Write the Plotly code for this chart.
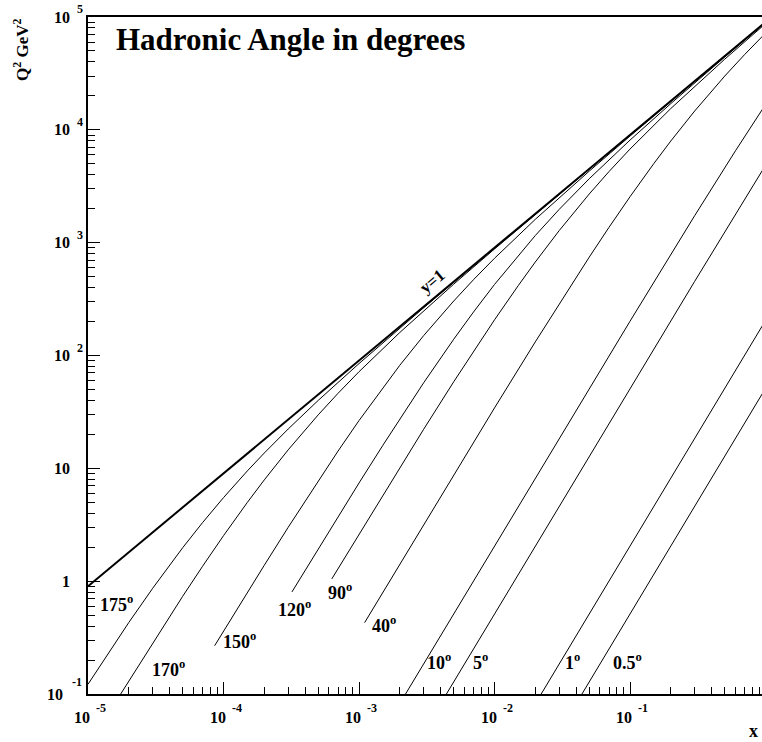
import math
import plotly.graph_objects as go

# ---- data -------------------------------------------------------------
# kinematic limit y = 1  (Q^2 = s x, HERA: s ~ 90200 GeV^2)
y1_x = [1e-5, 1.0]
y1_q2 = [0.902, 90200]

# lines of constant hadronic angle: Bjorken x and Q^2 (GeV^2)
x_175 = [1e-5, 1.5e-5, 2e-5, 3e-5, 5e-5, 7e-5, 1e-4, 1.5e-4, 2e-4, 3e-4, 5e-4, 1e-3, 3e-3, 1e-2, 1e-1, 1]
q2_175 = [0.122, 0.257, 0.430, 0.864, 1.98, 3.30, 5.50, 9.49, 13.67, 22.3, 40.0, 84.8, 265, 896, 9014, 90194]

x_170 = [1.743e-5, 2e-5, 3e-5, 5e-5, 7e-5, 1e-4, 1.5e-4, 2e-4, 3e-4, 5e-4, 7e-4, 1e-3, 2e-3, 5e-3, 1e-2, 1e-1, 1]
q2_170 = [0.100, 0.130, 0.283, 0.735, 1.353, 2.53, 4.99, 7.90, 14.58, 29.8, 46.2, 71.8, 159.9, 429, 879, 8997, 90177]

x_150 = [8.6e-5, 1e-4, 1.5e-4, 2e-4, 3e-4, 5e-4, 7e-4, 1e-3, 1.5e-3, 2e-3, 3e-3, 5e-3, 7e-3, 1e-2, 2e-2, 5e-2, 1e-1, 3e-1, 1]
q2_150 = [0.268, 0.360, 0.794, 1.384, 3.00, 7.76, 14.22, 26.5, 51.9, 81.9, 150.1, 304, 470, 727, 1610, 4303, 8808, 26845, 89983]

x_120 = [3.2e-4, 5e-4, 7e-4, 1e-3, 1.5e-3, 2e-3, 3e-3, 5e-3, 7e-3, 1e-2, 1.5e-2, 2e-2, 3e-2, 5e-2, 1e-1, 2e-1, 5e-1, 1]
q2_120 = [0.803, 1.931, 3.72, 7.41, 16.0, 27.4, 57.3, 139.4, 243, 426, 775, 1157, 1971, 3686, 8113, 17085, 44114, 89203]

x_90 = [6.3e-4, 1e-3, 1.5e-3, 2e-3, 3e-3, 5e-3, 7e-3, 1e-2, 1.5e-2, 2e-2, 3e-2, 5e-2, 7e-2, 1e-1, 2e-1, 5e-1, 1]
q2_90 = [1.048, 2.61, 5.79, 10.15, 22.2, 58.5, 109.0, 207, 418, 674, 1278, 2699, 4269, 6755, 15449, 42265, 87273]

x_40 = [1.1e-3, 2e-3, 3e-3, 5e-3, 1e-2, 2e-2, 3e-2, 5e-2, 7e-2, 1e-1, 1.5e-1, 2e-1, 3e-1, 5e-1, 7e-1, 1]
q2_40 = [0.429, 1.414, 3.17, 8.74, 34.3, 132.1, 286.7, 744, 1368, 2554, 5034, 7962, 14676, 29941, 46370, 71978]

x_10 = [2.205e-3, 5e-3, 1e-2, 3e-2, 1e-1, 3e-1, 6e-1, 1]
q2_10 = [0.100, 0.514, 2.054, 18.40, 201.3, 1734, 6519, 16761]

x_5 = [4.417e-3, 1e-2, 3e-2, 1e-1, 3e-1, 1]
q2_5 = [0.100, 0.512, 4.61, 51.0, 453.7, 4851]

x_1 = [2.21e-2, 5e-2, 1e-1, 3e-1, 1]
q2_1 = [0.100, 0.512, 2.048, 18.42, 204.4]

x_05 = [4.419e-2, 1e-1, 3e-1, 1]
q2_05 = [0.100, 0.512, 4.608, 51.18]

angle_labels = ["175", "170", "150", "120", "90", "40", "10", "5", "1", "0.5"]
angle_x = [x_175, x_170, x_150, x_120, x_90, x_40, x_10, x_5, x_1, x_05]
angle_q2 = [q2_175, q2_170, q2_150, q2_120, q2_90, q2_40, q2_10, q2_5, q2_1, q2_05]

# axis tick labels
x_decades = [1e-5, 1e-4, 1e-3, 1e-2, 1e-1]
x_exponents = ["-5", "-4", "-3", "-2", "-1"]
y_decades = [1e-1, 1, 10, 1e2, 1e3, 1e4, 1e5]
y_bases = ["10", "1", "10", "10", "10", "10", "10"]
y_exponents = ["-1", "", "", "2", "3", "4", "5"]

# ---- layout helpers ---------------------------------------------------
FONT = "Liberation Serif"


def font(size):
    return dict(family=FONT, size=size, color="black", weight="bold")


# where each angle label sits (log10 x, log10 Q^2 of the digits' left/centre)
label_pos = {
    "175": (-4.911, -0.220),
    "170": (-4.530, -0.792),
    "150": (-4.002, -0.546),
    "120": (-3.596, -0.258),
    "90": (-3.227, -0.108),
    "40": (-2.902, -0.400),
    "10": (-2.500, -0.728),
    "5": (-2.161, -0.728),
    "1": (-1.480, -0.728),
    "0.5": (-1.123, -0.728),
}

fig = go.Figure()

fig.add_trace(go.Scatter(x=y1_x, y=y1_q2, mode="lines",
                         line=dict(color="black", width=2), hoverinfo="skip"))
for lab, xs, qs in zip(angle_labels, angle_x, angle_q2):
    fig.add_trace(go.Scatter(x=xs, y=qs, mode="lines", name=lab + "°",
                             line=dict(color="black", width=1), hoverinfo="skip"))

ann = []

# x-axis labels: "10" with a raised exponent
for v, e in zip(x_decades, x_exponents):
    ann.append(dict(xref="x", yref="paper", x=math.log10(v), y=0, text="10",
                    xanchor="right", yanchor="middle", xshift=4, yshift=-23.5,
                    showarrow=False, font=font(16)))
    ann.append(dict(xref="x", yref="paper", x=math.log10(v), y=0, text=e,
                    xanchor="left", yanchor="middle", xshift=6, yshift=-14,
                    showarrow=False, font=font(12)))

# y-axis labels
for v, b, e in zip(y_decades, y_bases, y_exponents):
    low = v < 1
    ann.append(dict(xref="paper", yref="y", x=0, y=math.log10(v), text=b,
                    xanchor="right", yanchor="middle",
                    xshift=-23 if low else -16, yshift=0,
                    showarrow=False, font=font(16)))
    if e:
        ann.append(dict(xref="paper", yref="y", x=0, y=math.log10(v), text=e,
                        xanchor="left", yanchor="middle",
                        xshift=-18 if low else -13, yshift=12 if low else 8,
                        showarrow=False, font=font(12)))

# angle labels
for lab in angle_labels:
    lx, ly = label_pos[lab]
    ann.append(dict(xref="x", yref="y", x=lx, y=ly, text=lab + "<sup>o</sup>",
                    xanchor="left", yanchor="middle", xshift=-2, yshift=2,
                    showarrow=False, font=font(18)))

# y = 1 label along the kinematic limit
ann.append(dict(xref="x", yref="y", x=-2.461, y=2.656, text="y=1", textangle=-40,
                xanchor="center", yanchor="middle", showarrow=False, font=font(17)))

# title
ann.append(dict(xref="paper", yref="paper", x=0, y=1, text="Hadronic Angle in degrees",
                xanchor="left", yanchor="middle", xshift=26, yshift=-22.3,
                showarrow=False, font=font(31)))

# axis titles
ann.append(dict(xref="paper", yref="paper", x=0, y=1, text="Q<sup>2</sup> GeV<sup>2</sup>",
                textangle=-90, xanchor="center", yanchor="top", xshift=-67, yshift=0,
                showarrow=False, font=font(17)))
ann.append(dict(xref="paper", yref="paper", x=1, y=0, text="x",
                xanchor="right", yanchor="middle", xshift=-2, yshift=-37,
                showarrow=False, font=font(18)))

x_minor = [m * 10.0 ** d for d in range(-5, 0) for m in range(2, 10)]
y_minor = [m * 10.0 ** d for d in range(-1, 5) for m in range(2, 10)]

fig.update_layout(
    width=762, height=742,
    margin=dict(l=88, r=0, t=17, b=48, autoexpand=False),
    paper_bgcolor="white", plot_bgcolor="white",
    showlegend=False,
    annotations=ann,
    xaxis=dict(type="log", range=[-5, -0.026], showgrid=False, zeroline=False,
               showline=True, linecolor="black", linewidth=1.5, mirror=True,
               ticks="inside", ticklen=12, tickwidth=1, tickcolor="black",
               tickmode="array", tickvals=x_decades, showticklabels=False,
               minor=dict(ticks="inside", ticklen=7, tickwidth=1, tickcolor="black",
                          tickmode="array", tickvals=x_minor, showgrid=False)),
    yaxis=dict(type="log", range=[-1, 5], showgrid=False, zeroline=False,
               showline=True, linecolor="black", linewidth=1.5, mirror=False,
               ticks="inside", ticklen=12, tickwidth=1, tickcolor="black",
               tickmode="array", tickvals=y_decades, showticklabels=False,
               minor=dict(ticks="inside", ticklen=7, tickwidth=1, tickcolor="black",
                          tickmode="array", tickvals=y_minor, showgrid=False)),
)

fig.write_html("out.html")
